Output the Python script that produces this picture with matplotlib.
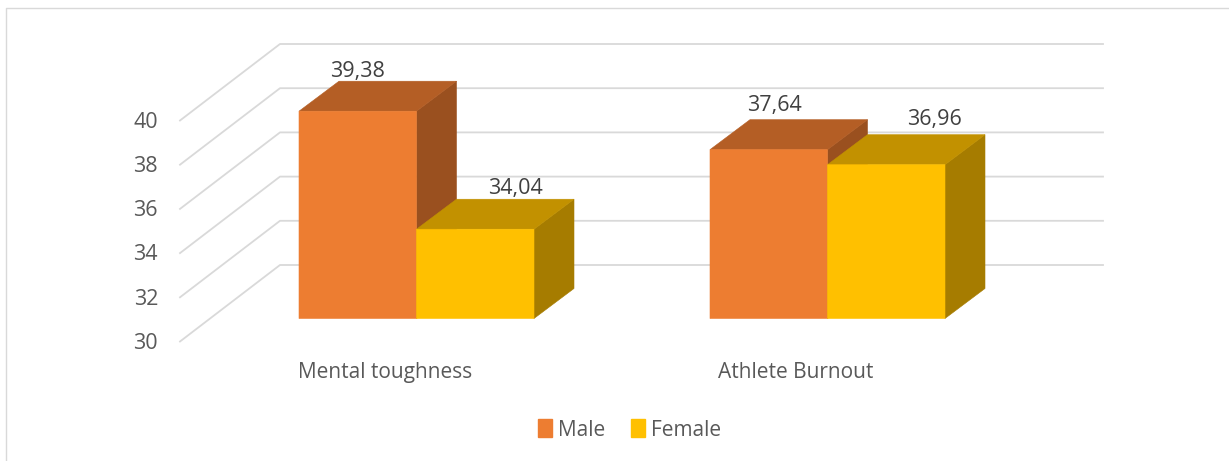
#!/usr/bin/env python3
"""
Pseudo-3D clustered column chart: Mental toughness and Athlete Burnout by gender.
"""

import matplotlib

matplotlib.use("Agg")
import matplotlib.pyplot as plt
from matplotlib.patches import Patch, Polygon

categories = ["Mental toughness", "Athlete Burnout"]
male = [39.38, 37.64]
female = [34.04, 36.96]
value_labels_male = ["39,38", "37,64"]
value_labels_female = ["34,04", "36,96"]
y_ticks = [30, 32, 34, 36, 38, 40]

# pixel layout of the original picture
WIDTH, HEIGHT = 1229, 461
BASE_PX = 318.5  # pixel row of value 30 on the bar front plane
PX_PER_UNIT = 22.1
BAR_W = 117.5
GROUP_X = [299, 710]
DEPTH_X = 40
DEPTH_Y = 30 / PX_PER_UNIT

WALL_LEFT, WALL_BACK, WALL_RIGHT = 180, 280, 1103
BACK_RISE = (BASE_PX - 265) / PX_PER_UNIT
FRONT_DROP = (341.5 - BASE_PX) / PX_PER_UNIT
TICK_LIFT = 0.7 / PX_PER_UNIT

GRID = "#d9d9d9"
ORANGE = ("#ed7d31", "#b45e25", "#9a501f")
YELLOW = ("#ffc000", "#c29100", "#a67c00")


def to_val(px):
    return 30 + (BASE_PX - px) / PX_PER_UNIT


def draw_box(ax, x, value, colors):
    front, top, side = colors
    base = y_ticks[0]
    ax.add_patch(Polygon(
        [(x + BAR_W, base), (x + BAR_W + DEPTH_X, base + DEPTH_Y),
         (x + BAR_W + DEPTH_X, value + DEPTH_Y), (x + BAR_W, value)],
        facecolor=side, edgecolor=side, lw=0.4, zorder=3))
    ax.add_patch(Polygon(
        [(x, value), (x + DEPTH_X, value + DEPTH_Y),
         (x + BAR_W + DEPTH_X, value + DEPTH_Y), (x + BAR_W, value)],
        facecolor=top, edgecolor=top, lw=0.4, zorder=3))
    bars = ax.bar(x, value - base, bottom=base, width=BAR_W, align="edge",
                  color=front, edgecolor=front, linewidth=0.4, zorder=3)
    # snapped rectangles leave a dark seam under the top face
    for bar in bars:
        bar.set_snap(False)


def main():
    plt.rcParams["font.family"] = ["Open Sans", "DejaVu Sans"]
    fig = plt.figure(figsize=(WIDTH / 100, HEIGHT / 100), dpi=100)
    ax = fig.add_axes([0, 0, 1, 1])
    ax.set_xlim(0, WIDTH)
    ax.set_ylim(to_val(HEIGHT), to_val(0))
    ax.axis("off")

    # chart frame, cropped at the right and bottom
    ax.plot([6, 6, WIDTH], [to_val(HEIGHT), to_val(8), to_val(8)],
            color=GRID, lw=1.0, zorder=1)

    # floor/side wall and back wall gridlines
    for tick in y_ticks:
        ax.plot([WALL_LEFT, WALL_BACK, WALL_RIGHT],
                [tick - FRONT_DROP, tick + BACK_RISE, tick + BACK_RISE],
                color=GRID, lw=1.3, zorder=1)
        ax.text(158, tick - FRONT_DROP + TICK_LIFT, str(tick), ha="right", va="center_baseline",
                fontsize=15.5, color="#595959")

    for i, x in enumerate(GROUP_X):
        draw_box(ax, x, male[i], ORANGE)
        draw_box(ax, x + BAR_W, female[i], YELLOW)

    # value labels sit on the top face of each box
    ax.annotate(value_labels_male[0], (GROUP_X[0] + BAR_W / 2, male[0] + DEPTH_Y),
                xytext=(0, -0.5), textcoords="offset points", ha="center", va="bottom",
                fontsize=15.5, color="#404040", zorder=5)
    ax.annotate(value_labels_female[0], (GROUP_X[0] + BAR_W * 1.5 + DEPTH_X, female[0] + DEPTH_Y),
                xytext=(0, 0.5), textcoords="offset points", ha="center", va="bottom",
                fontsize=15.5, color="#404040", zorder=5)
    ax.annotate(value_labels_male[1], (GROUP_X[1] + BAR_W / 2 + 6, male[1] + DEPTH_Y),
                xytext=(0, 2.5), textcoords="offset points", ha="center", va="bottom",
                fontsize=15.5, color="#404040", zorder=5)
    ax.annotate(value_labels_female[1], (GROUP_X[1] + BAR_W * 1.5 + DEPTH_X + 8, female[1] + DEPTH_Y),
                xytext=(0, 3.5), textcoords="offset points", ha="center", va="bottom",
                fontsize=15.5, color="#404040", zorder=5)

    for x, name in zip(GROUP_X, categories):
        ax.text(x + BAR_W - 31 if x == GROUP_X[0] else x + 86, to_val(372), name,
                ha="center", va="center", fontsize=15, color="#595959")

    handles = [Patch(color=ORANGE[0], label="Male"), Patch(color=YELLOW[0], label="Female")]
    ax.legend(handles=handles, ncol=2, frameon=False, loc="center",
              bbox_to_anchor=(629.5 / WIDTH, 1 - 430 / HEIGHT), fontsize=15,
              labelcolor="#595959", handlelength=0.67, handleheight=0.93,
              handletextpad=0.3, columnspacing=1.2)

    fig.savefig("out.png", dpi=100, facecolor="white")
    plt.close(fig)


if __name__ == "__main__":
    main()
